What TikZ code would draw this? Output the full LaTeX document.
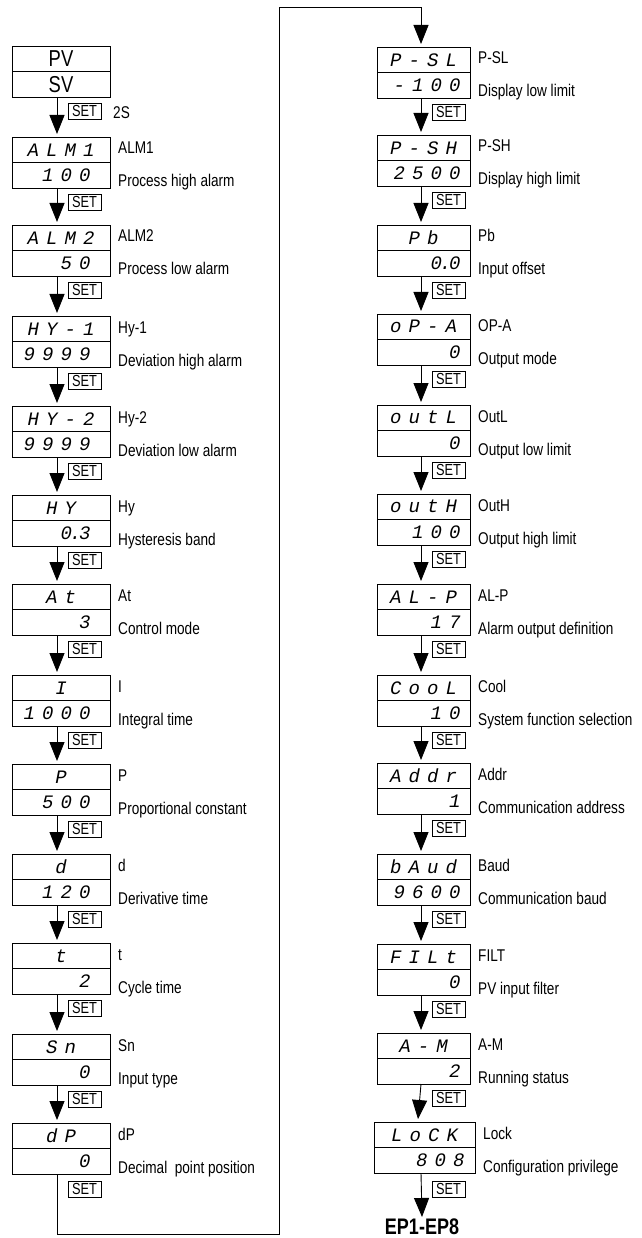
\documentclass[tikz,border=0pt]{standalone}
\usepackage{fontspec}
\usetikzlibrary{arrows.meta}
\newfontfamily\nfont[FakeStretch=0.8]{Liberation Sans}
\newfontfamily\segfont{Liberation Mono}
\newlength\segw \setlength\segw{18.5pt}
\newcommand\segchar[1]{\if.#1\makebox[0pt][c]{.}\else\makebox[\segw][c]{#1}\fi}
\def\segloop#1{\ifx\relax#1\else\segchar{#1}\expandafter\segloop\fi}
\newcommand\seg[1]{\segloop#1\relax}
\def\colw{98}\def\botw{66}
% name, x, y, top text, bottom text, label, description
\newcommand\pbox[7]{%
  \node[row, minimum width=\colw pt] (#1t) at (#2,#3) {\seg{#4}};
  \node[row, minimum width=\colw pt] (#1b) at (#1t.south west) {\makebox[\botw pt][r]{\seg{#5}}};
  \node[namelbl] (#1n) at ([xshift=8pt,yshift=-17pt]#1t.north east) {#6};
  \node[namelbl] (#1d) at ([xshift=8pt,yshift=1pt]#1b.south east) {#7};
}
% from, to, arrow x offset
\newcommand\arr[3]{%
  \draw[conn] ([xshift=#3pt]#1b.south west) -- ([xshift=#3pt,yshift=3pt]#2t.north west);
  \node[setb] (s#1) at ([xshift={(#3+11)*1pt},yshift=-6pt]#1b.south west) {SET};
}
\begin{document}
\begin{tikzpicture}[x=1pt,y=-1pt,
  row/.style={draw, line width=0.9pt, minimum height=25.5pt, inner sep=0pt, outer sep=0pt,
    anchor=north west, font=\segfont\itshape\fontsize{19}{19}\selectfont},
  pvrow/.style={row, minimum width=98pt, font=\nfont\fontsize{23}{23}\selectfont},
  namelbl/.style={anchor=base west, inner sep=0pt, font=\nfont\fontsize{17}{17}\selectfont},
  setb/.style={draw, line width=0.8pt, anchor=north west, minimum width=33pt, minimum height=16pt,
    inner sep=0pt, outer sep=0pt, font=\nfont\fontsize{16}{16}\selectfont},
  conn/.style={line width=0.9pt, -{Triangle[length=19pt,width=15pt]}}]
\useasboundingbox (0,0) rectangle (641,1238);

% ---- left column ----
\node[pvrow] (PVt) at (12,46) {PV};
\node[pvrow] (PVb) at (PVt.south west) {SV};
\def\colw{98}\def\botw{66}
\pbox{A1}{12}{137}{ALM1}{100}{ALM1}{Process high alarm}
\pbox{A2}{12}{225}{ALM2}{50}{ALM2}{Process low alarm}
\pbox{H1}{12}{316}{HY-1}{9999}{Hy-1}{Deviation high alarm}
\pbox{H2}{12}{406}{HY-2}{9999}{Hy-2}{Deviation low alarm}
\pbox{HY}{12}{495}{HY}{0.3}{Hy}{Hysteresis band}
\pbox{AT}{12}{584}{At}{3}{At}{Control mode}
\pbox{II}{12}{675}{I}{1000}{I}{Integral time}
\pbox{PP}{12}{764}{P}{500}{P}{Proportional constant}
\pbox{DD}{12}{854}{d}{120}{d}{Derivative time}
\pbox{TT}{12}{943}{t}{2}{t}{Cycle time}
\pbox{SN}{12}{1034}{Sn}{0}{Sn}{Input type}
\pbox{DP}{12}{1123}{dP}{0}{dP}{Decimal\ \ point position}

\arr{PV}{A1}{45}
\node[namelbl] (twoS) at ([xshift=12pt,yshift=-2pt]sPV.base east) {2S};
\arr{A1}{A2}{45}
\arr{A2}{H1}{45}
\arr{H1}{H2}{45}
\arr{H2}{HY}{45}
\arr{HY}{AT}{45}
\arr{AT}{II}{45}
\arr{II}{PP}{45}
\arr{PP}{DD}{45}
\arr{DD}{TT}{45}
\arr{TT}{SN}{45}
\arr{SN}{DP}{45}

% ---- right column ----
\def\colw{93}\def\botw{81}
\pbox{PSL}{377}{47}{P-SL}{-100}{P-SL}{Display low limit}
\pbox{PSH}{377}{135}{P-SH}{2500}{P-SH}{Display high limit}
\pbox{PB}{377}{225}{Pb}{0.0}{Pb}{Input offset}
\pbox{OPA}{377}{314}{oP-A}{0}{OP-A}{Output mode}
\pbox{OL}{377}{405}{outL}{0}{OutL}{Output low limit}
\pbox{OH}{377}{494}{outH}{100}{OutH}{Output high limit}
\pbox{ALP}{377}{584}{AL-P}{17}{AL-P}{Alarm output definition}
\pbox{COOL}{377}{675}{CooL}{10}{Cool}{System function selection}
\pbox{ADDR}{377}{763}{Addr}{1}{Addr}{Communication address}
\pbox{BAUD}{377}{854}{bAud}{9600}{Baud}{Communication baud}
\pbox{FILT}{377}{944}{FILt}{0}{FILT}{PV input filter}
\pbox{AM}{377}{1033}{A-M}{2}{A-M}{Running status}
\def\colw{101}\def\botw{87}
\pbox{LOCK}{374}{1122}{LoCK}{808}{Lock}{Configuration privilege}

\arr{PSL}{PSH}{44}
\arr{PSH}{PB}{44}
\arr{PB}{OPA}{44}
\arr{OPA}{OL}{44}
\arr{OL}{OH}{44}
\arr{OH}{ALP}{44}
\arr{ALP}{COOL}{44}
\arr{COOL}{ADDR}{44}
\arr{ADDR}{BAUD}{44}
\arr{BAUD}{FILT}{44}
\arr{FILT}{AM}{44}
\arr{AM}{LOCK}{44}

% ---- loop from dP to P-SL ----
\coordinate (c1) at (279,1234);
\coordinate (c2) at (279,7);
\draw[conn] ([xshift=45pt]DPb.south west) |- (c1) -- (c2) -| ([xshift=44pt,yshift=3pt]PSLt.north west);
\node[setb] (sDP) at ([xshift=56pt,yshift=-7pt]DPb.south west) {SET};

% ---- end ----
\node[anchor=north, inner sep=0pt, font=\nfont\bfseries\fontsize{22.5}{22.5}\selectfont] (EP) at (422,1219) {EP1-EP8};
\draw[conn] ([xshift=47pt]LOCKb.south west) -- ([yshift=2pt]EP.north);
\node[setb] (sLOCK) at ([xshift=58pt,yshift=-8pt]LOCKb.south west) {SET};
\end{tikzpicture}
\end{document}
